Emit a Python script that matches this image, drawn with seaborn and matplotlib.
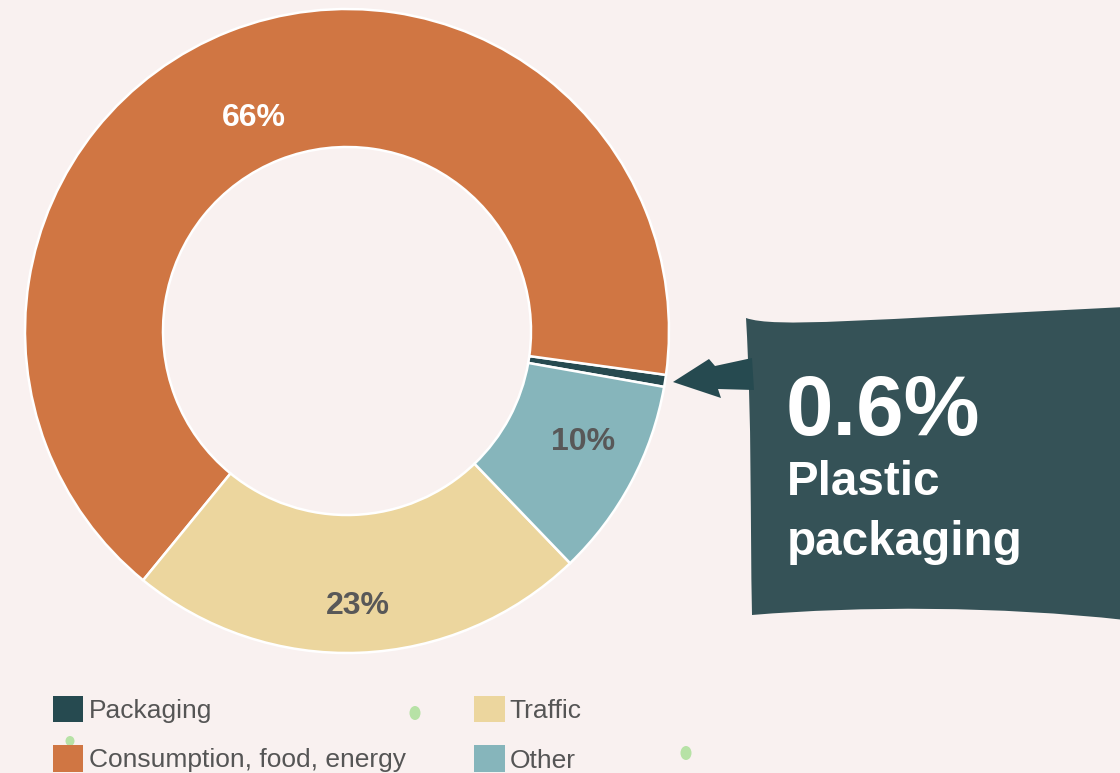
import numpy as np
import matplotlib
matplotlib.use("Agg")
import matplotlib.pyplot as plt
from matplotlib.path import Path
from matplotlib.patches import PathPatch, Ellipse
import seaborn as sns

# Share of emissions by source (percent)
categories = ["Packaging", "Consumption, food, energy", "Traffic", "Other"]
shares = [0.6, 66, 23, 10]
colors = ["#264a50", "#d07643", "#ecd69e", "#86b5bb"]
label_colors = [None, "white", "#585858", "#585858"]
label_radii = [None, 0.722, 0.855, 0.81]
label_turn = [0, 2.3, 0, 3.0]  # degrees added to each slice's mid angle

callout_value = "0.6%"
callout_lines = ["Plastic", "packaging"]

BG = "#f9f1f0"
BOX = "#355257"
W, H = 1120, 773

sns.set_theme(style="white")
plt.rcParams["font.family"] = ["Liberation Sans", "DejaVu Sans"]

fig = plt.figure(figsize=(W / 100, H / 100), dpi=100, facecolor=BG)


def px(x, y):
    """Pixel position (top-left origin) to figure fraction."""
    return x / W, 1 - y / H


# Donut axes: centre (347, 331), outer radius 322 px
cx, cy, r = 347, 331, 322
ax = fig.add_axes([(cx - r) / W, (H - cy - r) / H, 2 * r / W, 2 * r / H])
ax.set_facecolor(BG)

wedges, texts, autotexts = ax.pie(
    shares,
    colors=colors,
    startangle=-10,
    counterclock=True,
    radius=1,
    wedgeprops=dict(width=138 / 322, edgecolor="white", linewidth=1.8),
    autopct=lambda p: f"{p:.0f}%" if p >= 5 else "",
    pctdistance=0.8,
    textprops=dict(fontsize=23, fontweight="bold"),
)
for w, t, col, rad, turn in zip(wedges, autotexts, label_colors, label_radii, label_turn):
    if rad is None:
        continue
    ang = np.deg2rad((w.theta1 + w.theta2) / 2 + turn)
    t.set_position((rad * np.cos(ang), rad * np.sin(ang)))
    t.set_color(col)
ax.set_xlim(-1, 1)
ax.set_ylim(-1, 1)
ax.set_aspect("equal")
ax.axis("off")

# Small green blots near the legend
for (bx, by, bw, bh) in [(415, 713, 11, 14), (686, 753, 11, 14), (70, 741, 9, 10)]:
    fx, fy = px(bx, by)
    fig.patches.append(Ellipse((fx, fy), bw / W, bh / H, transform=fig.transFigure,
                               facecolor="#b7e2a6", edgecolor="none", zorder=0))

# Legend
leg = fig.legend(
    wedges, categories, ncol=2, loc="upper left",
    bbox_to_anchor=px(53, 696), frameon=False, fontsize=19,
    handlelength=1.15, handleheight=1.15, handletextpad=0.2,
    columnspacing=2.6, labelspacing=0.85, borderpad=0, borderaxespad=0,
)
for t in leg.get_texts():
    t.set_color("#555555")
for h in leg.legend_handles:
    h.set_edgecolor("none")

# Callout box with wavy edges
verts_px = [
    (746, 318),
    (775, 328), (860, 320), (1125, 307),
    (1125, 620),
    (1000, 606), (860, 606), (752, 615),
    (750, 520), (752, 420), (746, 318),
]
codes = [Path.MOVETO,
         Path.CURVE4, Path.CURVE4, Path.CURVE4,
         Path.LINETO,
         Path.CURVE4, Path.CURVE4, Path.CURVE4,
         Path.CURVE4, Path.CURVE4, Path.CURVE4]
box_path = Path([px(*v) for v in verts_px], codes)
fig.patches.append(PathPatch(box_path, transform=fig.transFigure,
                             facecolor=BOX, edgecolor="none", zorder=1))

# Arrow from box to the packaging slice
arrow_px = [(673, 382), (709, 359), (715, 366), (752, 358), (754, 390),
            (718, 389), (721, 398), (673, 382)]
arrow_codes = [Path.MOVETO] + [Path.LINETO] * (len(arrow_px) - 2) + [Path.CLOSEPOLY]
fig.patches.append(PathPatch(Path([px(*v) for v in arrow_px], arrow_codes),
                             transform=fig.transFigure, facecolor="#264a50",
                             edgecolor="none", zorder=1))

fig.text(*px(786, 435), callout_value, color="white", fontsize=61.5,
         fontweight="bold", va="baseline", ha="left", zorder=3)
for i, line in enumerate(callout_lines):
    fig.text(*px(787, 495 + 60 * i), line, color="white", fontsize=34.3,
             fontweight="bold", va="baseline", ha="left", zorder=3)

fig.savefig("out.png", dpi=100, facecolor=BG)
